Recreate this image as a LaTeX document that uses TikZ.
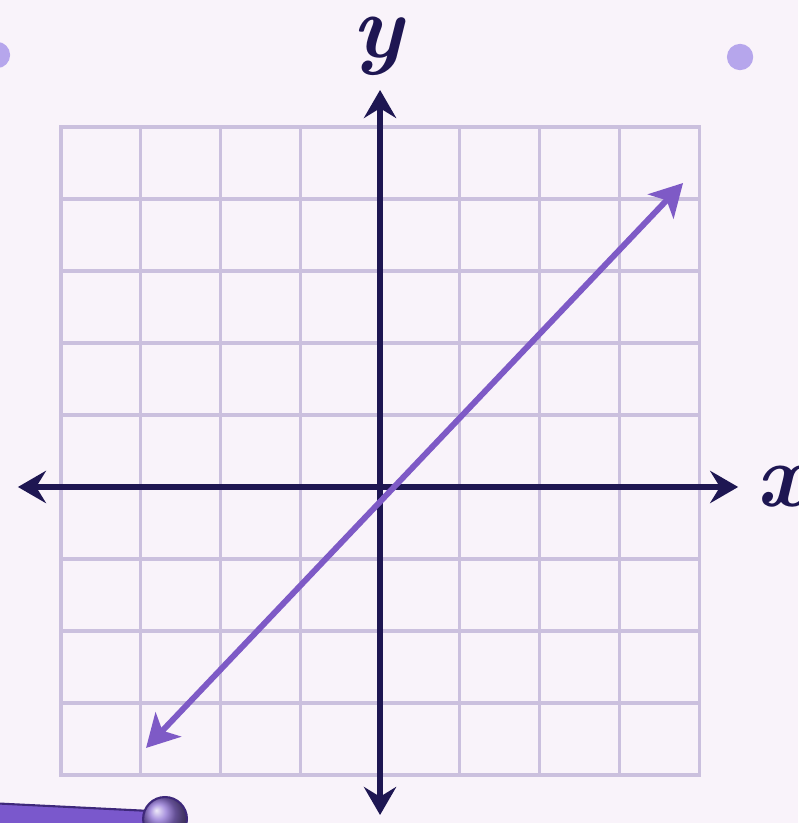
\documentclass[tikz,border=0pt]{standalone}
\usetikzlibrary{arrows.meta}
\definecolor{pagelilac}{RGB}{249,243,250}
\definecolor{gridlilac}{RGB}{203,192,222}
\definecolor{axisnavy}{RGB}{30,22,82}
\definecolor{linepurple}{RGB}{126,90,198}
\definecolor{dotlilac}{RGB}{182,166,236}
\definecolor{penpurple}{RGB}{122,88,204}
\definecolor{penedge}{RGB}{62,40,122}

\begin{document}
\begin{tikzpicture}[
    x=2cm,y=1.8054cm,
    gridline/.style={draw=gridlilac,line width=2.2pt,line cap=rect},
    axis/.style={draw=axisnavy,line width=4.2pt,
      {Stealth[length=20pt,width=23pt,inset=7pt]}-{Stealth[length=20pt,width=23pt,inset=7pt]}},
    graphline/.style={draw=linepurple,line width=4.2pt,
      {Stealth[length=23pt,width=25pt,inset=6pt]}-{Stealth[length=23pt,width=25pt,inset=6pt]}},
    axislabel/.style={inner sep=0pt,text=axisnavy,font=\fontsize{64}{66}\selectfont\bfseries\itshape},
    cornerdot/.style={fill=dotlilac}
  ]
    \useasboundingbox[fill=pagelilac] (-4.765,-4.667) rectangle (5.241,6.764);

    % grid
    \foreach \gx in {-4,...,4} \draw[gridline] (\gx,-4) -- (\gx,5);
    \foreach \gy in {-4,...,5} \draw[gridline] (-4,\gy) -- (4,\gy);

    % axes
    \coordinate (xl) at (-4.54,0);
    \coordinate (xr) at (4.49,0);
    \coordinate (yb) at (0,-4.556);
    \coordinate (yt) at (0,5.514);
    \draw[axis] (xl) -- (xr);
    \draw[axis] (yb) -- (yt);

    \node[axislabel] (ylab) at (-0.025,6.12) {y};
    \node[axislabel] (xlab) at (5.03,0.0) {x};

    % the line
    \coordinate (lo) at (-2.934,-3.625);
    \coordinate (hi) at (3.799,4.222);
    \draw[graphline] (lo) -- (hi);

    % dots and pen
    \fill[cornerdot] (-4.803,6.0) circle (0.33cm);
    \fill[cornerdot] (4.514,5.972) circle (0.33cm);
    \filldraw[fill=penpurple,draw=penedge,line width=1.5pt]
      (-4.9,-4.39) -- (-2.883,-4.5) -- (-2.883,-4.97) -- (-4.9,-4.97) -- cycle;
    \shade[ball color=penpurple!85] (-2.696,-4.611) circle (0.55cm);
    \draw[penedge,line width=1.5pt] (-2.696,-4.611) circle (0.55cm);
  \end{tikzpicture}
\end{document}
